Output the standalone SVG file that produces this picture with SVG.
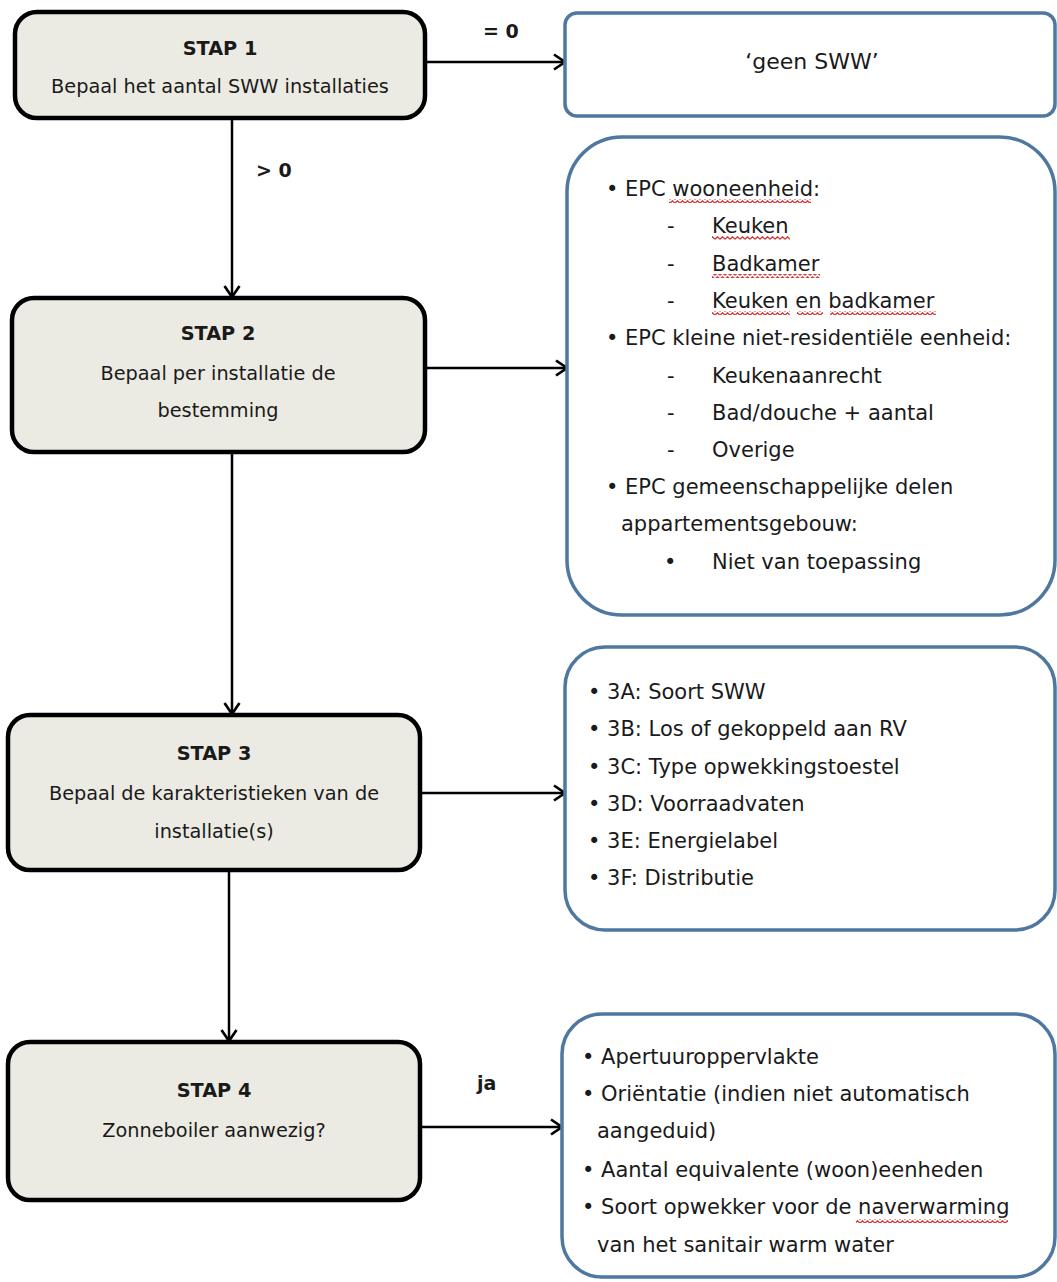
<svg xmlns="http://www.w3.org/2000/svg" width="1057" height="1282" viewBox="0 0 1057 1282">
<style>
.step{fill:#ecebe3;stroke:#000;stroke-width:4.5}
.info{fill:#fff;stroke:#4f78a0;stroke-width:3.5}
.t{font-family:"DejaVu Sans","Liberation Sans",sans-serif;fill:#1a1a1a}
.st{font-size:19.3px;text-anchor:middle}
.b{font-weight:bold}
.it{font-size:21px}
.lbl{font-family:"DejaVu Sans","Liberation Sans",sans-serif;font-size:19px;font-weight:bold;fill:#1a1a1a}
.conn{stroke:#000;stroke-width:2.5;fill:none}
.wave{stroke:#d03a3a;stroke-width:1.3;fill:none}
</style>
<defs>
<marker id="arr" markerUnits="userSpaceOnUse" markerWidth="14" markerHeight="18" viewBox="0 0 14 18" refX="13" refY="9" orient="auto">
<path d="M2,1.5 L13,9 L2,16.5" fill="none" stroke="#000" stroke-width="2.7"/>
</marker>
<pattern id="wv" width="5" height="4" patternUnits="userSpaceOnUse"><path d="M0,3.2 L2.5,0.8 L5,3.2" class="wave"/></pattern>
</defs>
<rect width="1057" height="1282" fill="#fff"/>

<g id="connectors">
<line class="conn" x1="425" y1="62" x2="565" y2="62" marker-end="url(#arr)"/>
<line class="conn" x1="232" y1="118" x2="232" y2="297" marker-end="url(#arr)"/>
<line class="conn" x1="425" y1="368" x2="567" y2="368" marker-end="url(#arr)"/>
<line class="conn" x1="232" y1="452" x2="232" y2="714" marker-end="url(#arr)"/>
<line class="conn" x1="420" y1="793" x2="565" y2="793" marker-end="url(#arr)"/>
<line class="conn" x1="229" y1="870" x2="229" y2="1041" marker-end="url(#arr)"/>
<line class="conn" x1="420" y1="1127" x2="562" y2="1127" marker-end="url(#arr)"/>
<text class="lbl" x="483" y="38">= 0</text>
<text class="lbl" x="256" y="177">&gt; 0</text>
<text class="lbl" x="477" y="1090">ja</text>
</g>

<g id="stap1">
<rect class="step" x="15" y="12" width="410" height="106" rx="22"/>
<text class="t st b" x="220" y="55">STAP 1</text>
<text class="t st" x="220" y="93">Bepaal het aantal SWW installaties</text>
</g>

<g id="geen">
<rect class="info" x="565" y="13" width="490" height="103" rx="12"/>
<text class="t" x="812" y="69" font-size="22" text-anchor="middle">‘geen SWW’</text>
</g>

<g id="stap2">
<rect class="step" x="12" y="298" width="413" height="154" rx="22"/>
<text class="t st b" x="218" y="340">STAP 2</text>
<text class="t st" x="218" y="380">Bepaal per installatie de</text>
<text class="t st" x="218" y="417">bestemming</text>
</g>

<g id="bestemming">
<rect class="info" x="567" y="137" width="488" height="478" rx="55"/>
<g class="t it">
<text x="606" y="196">• EPC wooneenheid:</text>
<text x="667" y="233">-</text><text x="712" y="233">Keuken</text>
<text x="667" y="271">-</text><text x="712" y="271">Badkamer</text>
<text x="667" y="308">-</text><text x="712" y="308">Keuken en badkamer</text>
<text x="606" y="345">• EPC kleine niet-residentiële eenheid:</text>
<text x="667" y="383">-</text><text x="712" y="383">Keukenaanrecht</text>
<text x="667" y="420">-</text><text x="712" y="420">Bad/douche + aantal</text>
<text x="667" y="457">-</text><text x="712" y="457">Overige</text>
<text x="606" y="494">• EPC gemeenschappelijke delen</text>
<text x="621" y="531">appartementsgebouw:</text>
<text x="664" y="569">•</text><text x="712" y="569">Niet van toepassing</text>
</g>
<rect x="669" y="199" width="142" height="4" fill="url(#wv)"/>
<rect x="712" y="236" width="78" height="4" fill="url(#wv)"/>
<rect x="712" y="274" width="108" height="4" fill="url(#wv)"/>
<rect x="712" y="311" width="78" height="4" fill="url(#wv)"/>
<rect x="797" y="311" width="26" height="4" fill="url(#wv)"/>
<rect x="830" y="311" width="106" height="4" fill="url(#wv)"/>
</g>

<g id="stap3">
<rect class="step" x="8" y="715" width="412" height="155" rx="22"/>
<text class="t st b" x="214" y="760">STAP 3</text>
<text class="t st" x="214" y="800">Bepaal de karakteristieken van de</text>
<text class="t st" x="214" y="838">installatie(s)</text>
</g>

<g id="karakteristieken">
<rect class="info" x="565" y="647" width="490" height="283" rx="40"/>
<g class="t it">
<text x="588" y="699">• 3A: Soort SWW</text>
<text x="588" y="736">• 3B: Los of gekoppeld aan RV</text>
<text x="588" y="774">• 3C: Type opwekkingstoestel</text>
<text x="588" y="811">• 3D: Voorraadvaten</text>
<text x="588" y="848">• 3E: Energielabel</text>
<text x="588" y="885">• 3F: Distributie</text>
</g>
</g>

<g id="stap4">
<rect class="step" x="8" y="1042" width="412" height="158" rx="22"/>
<text class="t st b" x="214" y="1097">STAP 4</text>
<text class="t st" x="214" y="1137">Zonneboiler aanwezig?</text>
</g>

<g id="zonneboiler">
<rect class="info" x="562" y="1014" width="493" height="263" rx="40"/>
<g class="t it">
<text x="582" y="1064">• Apertuuroppervlakte</text>
<text x="582" y="1101">• Oriëntatie (indien niet automatisch</text>
<text x="597" y="1138">aangeduid)</text>
<text x="582" y="1177">• Aantal equivalente (woon)eenheden</text>
<text x="582" y="1214">• Soort opwekker voor de naverwarming</text>
<text x="597" y="1252">van het sanitair warm water</text>
</g>
<rect x="856" y="1219" width="152" height="4" fill="url(#wv)"/>
</g>
</svg>
